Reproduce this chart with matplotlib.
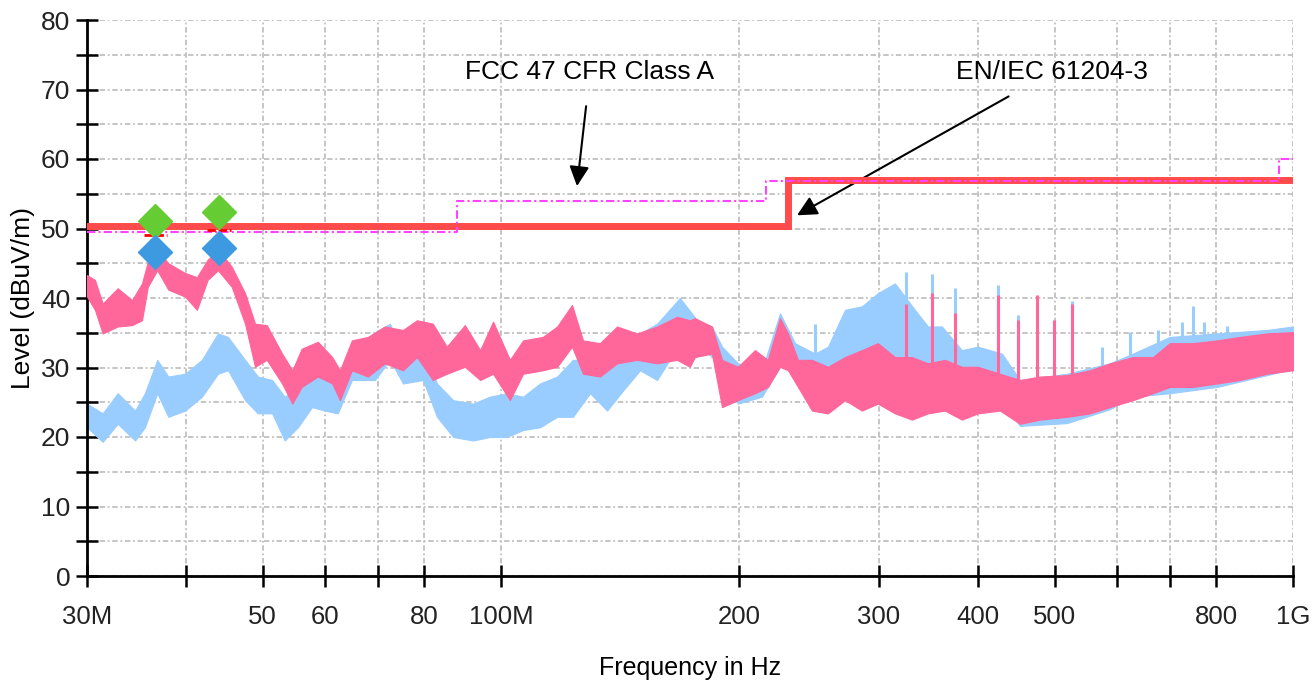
import numpy as np
import matplotlib
matplotlib.use("Agg")
import matplotlib.pyplot as plt

plt.rcParams['font.family'] = ['Liberation Sans', 'DejaVu Sans']

# pink trace (envelope), MHz / dBuV/m
pink_f = [30.0, 30.7, 31.4, 32.8, 34.2, 35.2, 35.8, 36.8, 38.0, 39.9, 41.3, 42.6, 43.9,
          45.7, 47.5, 48.9, 50.6, 52.9, 54.5, 56.0, 58.7, 61.2, 62.6, 64.8, 67.9, 71.3,
          75.2, 78.3, 82.0, 85.4, 90.0, 94.1, 97.7, 102.6, 106.6, 112.9, 117.7, 122.9,
          126.9, 133.3, 140.1, 148.5, 157.4, 166.8, 173.1, 175.7, 184.6, 190.1, 199.1,
          209.2, 217.2, 225.0, 230.3, 237.1, 246.9, 258.7, 271.8, 285.5, 299.1, 314.3,
          330.2, 346.0, 363.4, 381.8, 400.0, 426.5, 452.2, 479.1, 518.3, 554.2, 587.1,
          627.9, 665.5, 699.0, 747.5, 801.7, 857.2, 927.0, 1000.0]
pink_lo = [40.2, 38.3, 34.9, 35.9, 36.1, 36.8, 41.6, 44.0, 41.2, 40.2, 38.3, 42.6, 44.0,
           41.6, 36.3, 30.1, 31.1, 27.7, 24.8, 27.2, 28.7, 27.7, 25.3, 29.6, 28.7, 30.6,
           29.6, 31.5, 28.2, 29.1, 30.1, 28.2, 29.1, 25.3, 29.1, 29.6, 30.1, 33.0,
           29.1, 28.7, 30.6, 31.1, 30.6, 31.1, 30.1, 31.5, 32.0, 24.3, 25.3,
           26.3, 27.2, 30.1, 29.6, 27.2, 23.8, 23.4, 25.3, 23.8, 24.8, 23.4,
           22.5, 23.4, 23.8, 22.5, 23.4, 23.8, 21.9, 22.5, 22.9, 23.4, 24.3,
           25.3, 26.3, 27.2, 27.2, 27.7, 28.2, 29.1, 29.6]
pink_hi = [43.3, 42.6, 39.2, 41.4, 39.7, 42.1, 45.2, 47.0, 45.0, 43.6, 43.0, 45.5, 47.0,
           44.5, 40.7, 36.3, 36.1, 32.0, 29.6, 32.7, 33.7, 31.5, 29.6, 33.9, 34.4, 35.9,
           35.4, 36.8, 36.3, 33.0, 36.1, 32.5, 36.6, 31.1, 33.9, 34.4, 35.9, 39.0,
           33.9, 33.5, 35.9, 34.9, 35.9, 37.3, 36.8, 37.1, 35.9, 31.1, 30.1,
           32.5, 31.1, 37.1, 34.9, 31.1, 31.1, 30.1, 31.5, 32.5, 33.5, 31.5,
           31.5, 30.6, 31.1, 30.1, 30.1, 29.1, 28.2, 28.7, 28.9, 29.6, 30.6,
           31.5, 31.5, 33.5, 33.5, 33.9, 34.4, 34.9, 35.1]

# blue trace
blue_f = [30.0, 31.4, 32.8, 34.5, 35.5, 36.8, 38.0, 39.9, 41.9, 43.9, 45.2, 47.5, 49.3,
          51.4, 53.3, 55.4, 57.7, 59.9, 62.2, 64.8, 69.3, 72.4, 75.2, 79.7, 83.0, 87.0,
          92.2, 96.8, 101.7, 106.6, 112.0, 117.7, 123.2, 129.5, 136.1, 142.6, 149.8,
          157.4, 168.2, 176.8, 184.6, 190.1, 199.1, 213.5, 225.0, 235.0, 249.1, 258.7,
          271.8, 285.5, 299.1, 314.3, 333.1, 346.0, 360.3, 381.8, 400.0, 429.0, 452.2,
          518.3, 587.1, 627.9, 699.0, 801.7, 927.0, 1000.0]
blue_lo = [21.4, 19.3, 21.9, 19.5, 21.4, 26.3, 22.9, 23.8, 25.8, 29.1, 29.6, 25.3, 23.4,
           23.4, 19.5, 21.4, 24.3, 23.8, 23.4, 28.2, 28.2, 31.1, 27.7, 28.2, 22.9, 20.0,
           19.5, 20.0, 20.0, 21.0, 21.4, 22.9, 22.9, 26.3, 23.8, 26.7, 29.6,
           28.2, 33.5, 33.5, 31.5, 30.1, 24.8, 25.8, 30.1, 29.6, 27.0, 27.0,
           27.0, 27.0, 27.0, 27.0, 27.0, 27.0, 27.0, 27.0, 27.0, 25.0, 21.6,
           22.0, 24.0, 25.8, 26.3, 27.2, 28.9, 29.8]
blue_hi = [24.8, 23.4, 26.3, 23.8, 26.3, 31.1, 28.7, 29.1, 31.1, 34.9, 34.4, 31.1, 28.7,
           28.2, 25.8, 27.2, 29.1, 29.1, 27.7, 32.5, 35.1, 36.3, 31.5, 32.5, 27.7, 25.3,
           24.8, 25.8, 26.3, 25.8, 27.7, 28.7, 31.1, 31.1, 32.5, 33.0, 34.9,
           36.3, 40.0, 36.8, 35.9, 33.0, 30.6, 29.6, 37.8, 33.5, 32.0, 33.0,
           38.3, 38.8, 40.7, 42.1, 38.3, 35.9, 35.9, 32.5, 33.0, 32.0, 28.2,
           29.1, 30.6, 32.0, 34.4, 34.9, 35.4, 35.9]

# single-frequency spikes
pink_spike_f = [324.5, 350.0, 374.2, 424.0, 449.4, 475.0, 498.9, 525.9]
pink_spike_top = [39.2, 40.7, 37.8, 40.4, 36.8, 40.4, 36.8, 39.2]
blue_spike_f = [249.1, 324.5, 350.0, 374.2, 424.0, 449.4, 525.9, 573.6, 622.4, 675.2,
                723.8, 747.5, 771.8, 825.3]
blue_spike_top = [36.3, 43.8, 43.5, 41.4, 41.9, 37.5, 39.5, 32.9, 35.1, 35.4,
                  36.6, 38.8, 36.6, 35.9]

# limit lines
en_f = [30, 230, 230, 1000]
en_lvl = [50.3, 50.3, 57.0, 57.0]
fcc_f = [30, 88, 88, 216, 216, 960, 960, 1000]
fcc_lvl = [49.5, 49.5, 54.0, 54.0, 56.9, 56.9, 60.0, 60.0]

# final measurement markers
mk_f = [36.6, 44.0]
mk_qp = [51.1, 52.4]
mk_pk = [46.6, 47.2]
mk_lim = [49.1, 49.8]

x_ticks = [30, 40, 50, 60, 70, 80, 100, 200, 300, 400, 500, 600, 700, 800, 1000]
x_labels = ['30M', '', '50', '60', '', '80', '100M', '200', '300', '400', '500', '', '', '800', '1G']

fig = plt.figure(figsize=(13.13, 6.8), dpi=100)
ax = fig.add_axes([87 / 1313, 1 - 576 / 680, 1206 / 1313, 556 / 680])
ax.set_xscale('log')
ax.set_xlim(30, 1000)
ax.set_ylim(0, 80)

blue_c = '#99ccff'
pink_c = '#ff6699'
ax.fill_between(blue_f, blue_lo, blue_hi, color=blue_c, lw=0.8, zorder=2)
ax.vlines(blue_spike_f, 30, blue_spike_top, color=blue_c, lw=2.2, zorder=2)
ax.fill_between(pink_f, pink_lo, pink_hi, color=pink_c, lw=0.8, zorder=3)
ax.vlines(pink_spike_f, 28, pink_spike_top, color=pink_c, lw=2.2, zorder=3)

ax.plot(en_f, en_lvl, color='#ff4b4b', lw=5, solid_joinstyle='miter', zorder=4)
ax.plot(fcc_f, fcc_lvl, color='#ff44ff', lw=1.5, ls=(0, (4, 1.5, 1, 1.5)), zorder=5)

for f, y in zip(mk_f, mk_lim):
    ax.plot([f / 1.035, f * 1.035], [y, y], color='red', lw=2, ls=(0, (3, 1)), zorder=5)
ax.plot(mk_f, mk_qp, ls='none', marker='D', ms=17, color='#66cc33', zorder=6)
ax.plot(mk_f, mk_pk, ls='none', marker='D', ms=17, color='#3d9ae0', zorder=6)

ax.annotate('FCC 47 CFR Class A', xy=(124.7, 56.1), xytext=(129.5, 72.5),
            ha='center', va='center', fontsize=19,
            arrowprops=dict(arrowstyle='-|>', color='black', lw=1.5, mutation_scale=30,
                            shrinkA=14, shrinkB=0))
ax.annotate('EN/IEC 61204-3', xy=(236.4, 51.9), xytext=(496, 72.5),
            ha='center', va='center', fontsize=19,
            arrowprops=dict(arrowstyle='-|>', color='black', lw=1.5, mutation_scale=30,
                            shrinkA=14, shrinkB=0))

# axes styling
for s in ['top', 'right']:
    ax.spines[s].set_visible(False)
for s in ['left', 'bottom']:
    ax.spines[s].set_linewidth(2)

ax.set_xticks(x_ticks)
ax.set_xticklabels(x_labels)
ax.xaxis.set_minor_locator(matplotlib.ticker.NullLocator())
ax.set_yticks(np.arange(0, 81, 10))
ax.set_yticks(np.arange(5, 80, 10), minor=True)
ax.tick_params(axis='x', direction='inout', length=16, width=1.8, pad=13, labelsize=18.5,
               labelcolor='#222222')
ax.tick_params(axis='y', which='both', direction='inout', length=16, width=1.8, pad=4,
               labelsize=19, labelcolor='#222222')
ax.grid(True, which='both', color='#c0c0c0', lw=1.3, ls=(0, (3, 1.5, 1, 1.5)), zorder=0)
ax.set_axisbelow(True)

ax.set_ylabel('Level (dBuV/m)', fontsize=19, labelpad=4)
fig.text(690 / 1313, 1 - 668 / 680, 'Frequency in Hz', ha='center', va='center', fontsize=18)

fig.savefig('out.png', dpi=100)
